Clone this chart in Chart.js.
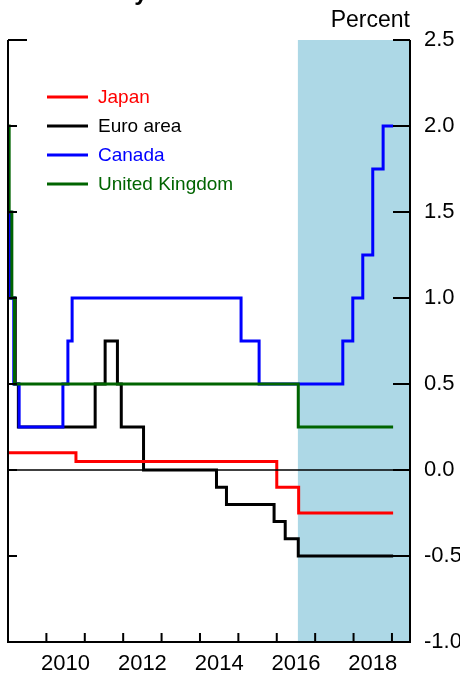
<!DOCTYPE html>
<html>
<head>
<meta charset="utf-8">
<script src="https://cdn.jsdelivr.net/npm/chart.js@4.4.0/dist/chart.umd.min.js"></script>
<style>
  body { margin: 0; background: #fff; }
  #wrap { width: 460px; height: 677px; }
</style>
</head>
<body>
<div id="wrap"><canvas id="chart" width="460" height="677"></canvas></div>
<script>
// policy rates (x = decimal year, y = percent)
const japanDates = [2009.0, 2010.77, 2016.0, 2016.57, 2019.03];
const japanRates = [0.1, 0.05, -0.1, -0.25, -0.25];

const euroDates = [2009.0, 2009.19, 2009.27, 2011.27, 2011.53, 2011.85, 2011.95, 2012.53, 2014.43, 2014.69, 2015.93, 2016.22, 2016.56, 2019.03];
const euroRates = [1.0, 0.5, 0.25, 0.5, 0.75, 0.5, 0.25, 0.0, -0.1, -0.2, -0.3, -0.4, -0.5, -0.5];

const canadaDates = [2009.0, 2009.05, 2009.15, 2009.29, 2010.43, 2010.56, 2010.67, 2015.07, 2015.54, 2017.72, 2017.98, 2018.24, 2018.5, 2018.77, 2019.03];
const canadaRates = [1.5, 1.0, 0.5, 0.25, 0.5, 0.75, 1.0, 0.75, 0.5, 0.75, 1.0, 1.25, 1.75, 2.0, 2.0];

const ukDates = [2009.0, 2009.03, 2009.1, 2009.17, 2016.56, 2019.03];
const ukRates = [2.0, 1.5, 1.0, 0.5, 0.25, 0.25];

const yearTicks = [2010, 2011, 2012, 2013, 2014, 2015, 2016, 2017, 2018, 2019];
const yearLabels = [2010, 2012, 2014, 2016, 2018];
const rateTicks = [-1.0, -0.5, 0.0, 0.5, 1.0, 1.5, 2.0, 2.5];
const shadeStart = 2016.55;

const FONT = "'Liberation Sans', Arial, sans-serif";

function points(xs, ys) {
  return xs.map((x, i) => ({ x: x, y: ys[i] }));
}

function series(label, xs, ys, color, order) {
  return {
    label: label,
    data: points(xs, ys),
    borderColor: color,
    backgroundColor: color,
    borderWidth: 3,
    pointRadius: 0,
    stepped: true,
    fill: false,
    order: order,
  };
}

const shade = {
  id: "shade",
  beforeDatasetsDraw(chart) {
    const { ctx, chartArea, scales } = chart;
    const x0 = scales.x.getPixelForValue(shadeStart);
    ctx.save();
    ctx.fillStyle = "#add8e6";
    ctx.fillRect(x0, chartArea.top, chartArea.right - x0, chartArea.bottom - chartArea.top);
    ctx.restore();
  },
};

const frame = {
  id: "frame",
  afterDatasetsDraw(chart) {
    const { ctx, chartArea, scales } = chart;
    const { left, right, top, bottom } = chartArea;
    ctx.save();

    // zero line
    const y0 = scales.y.getPixelForValue(0);
    ctx.strokeStyle = "#000";
    ctx.lineWidth = 1.5;
    ctx.beginPath();
    ctx.moveTo(left, y0);
    ctx.lineTo(right, y0);
    ctx.stroke();

    // axes: left, right, bottom
    ctx.lineWidth = 2;
    ctx.beginPath();
    ctx.moveTo(left, top);
    ctx.lineTo(left, bottom);
    ctx.lineTo(right, bottom);
    ctx.lineTo(right, top);
    ctx.stroke();

    // inward tick marks
    ctx.beginPath();
    rateTicks.forEach((v) => {
      const y = scales.y.getPixelForValue(v);
      ctx.moveTo(left, y);
      ctx.lineTo(left + (v === 2.5 ? 19 : 9), y);
      ctx.moveTo(right, y);
      ctx.lineTo(right - 17, y);
    });
    yearTicks.forEach((yr) => {
      const x = scales.x.getPixelForValue(yr);
      ctx.moveTo(x, bottom);
      ctx.lineTo(x, bottom - 9);
    });
    ctx.stroke();

    // legend
    ctx.font = "19px " + FONT;
    ctx.textBaseline = "middle";
    ctx.textAlign = "left";
    chart.data.datasets.forEach((ds, i) => {
      const y = 97 + i * 29;
      ctx.strokeStyle = ds.borderColor;
      ctx.lineWidth = 3;
      ctx.beginPath();
      ctx.moveTo(47, y);
      ctx.lineTo(88, y);
      ctx.stroke();
      ctx.fillStyle = ds.borderColor;
      ctx.fillText(ds.label, 98, y + 1);
    });

    // unit label and (cropped) title
    ctx.fillStyle = "#000";
    ctx.font = "23px " + FONT;
    ctx.textAlign = "right";
    ctx.textBaseline = "alphabetic";
    ctx.fillText("Percent", right, 27);
    ctx.font = "bold 24px " + FONT;
    ctx.textAlign = "left";
    ctx.fillText("Policy Rates", 77, 0);

    ctx.restore();
  },
};

new Chart(document.getElementById("chart"), {
  type: "line",
  data: {
    datasets: [
      series("Japan", japanDates, japanRates, "#ff0000", 2),
      series("Euro area", euroDates, euroRates, "#000000", 3),
      series("Canada", canadaDates, canadaRates, "#0000ff", 1),
      series("United Kingdom", ukDates, ukRates, "#006400", 0),
    ],
  },
  options: {
    responsive: false,
    animation: false,
    layout: { padding: { top: 40, left: 8, right: 0, bottom: 0 } },
    plugins: {
      legend: { display: false },
      tooltip: { enabled: false },
    },
    scales: {
      x: {
        type: "linear",
        position: "bottom",
        min: 2009.0,
        max: 2019.47,
        grid: { display: false, drawTicks: false },
        border: { display: false },
        afterBuildTicks: (scale) => {
          scale.ticks = yearLabels.map((yr) => ({ value: yr + 0.5 }));
        },
        afterFit: (scale) => {
          scale.height = 35;
        },
        ticks: {
          autoSkip: false,
          maxRotation: 0,
          padding: 9,
          color: "#000",
          font: { family: FONT, size: 22 },
          callback: (v) => String(Math.floor(v)),
        },
      },
      y: {
        type: "linear",
        position: "right",
        min: -1.0,
        max: 2.5,
        grid: { display: false, drawTicks: false },
        border: { display: false },
        afterBuildTicks: (scale) => {
          scale.ticks = rateTicks.map((v) => ({ value: v }));
        },
        afterFit: (scale) => {
          scale.width = 50;
        },
        ticks: {
          padding: 14,
          color: "#000",
          font: { family: FONT, size: 22 },
          callback: (v) => v.toFixed(1),
        },
      },
    },
  },
  plugins: [shade, frame],
});
</script>
</body>
</html>
